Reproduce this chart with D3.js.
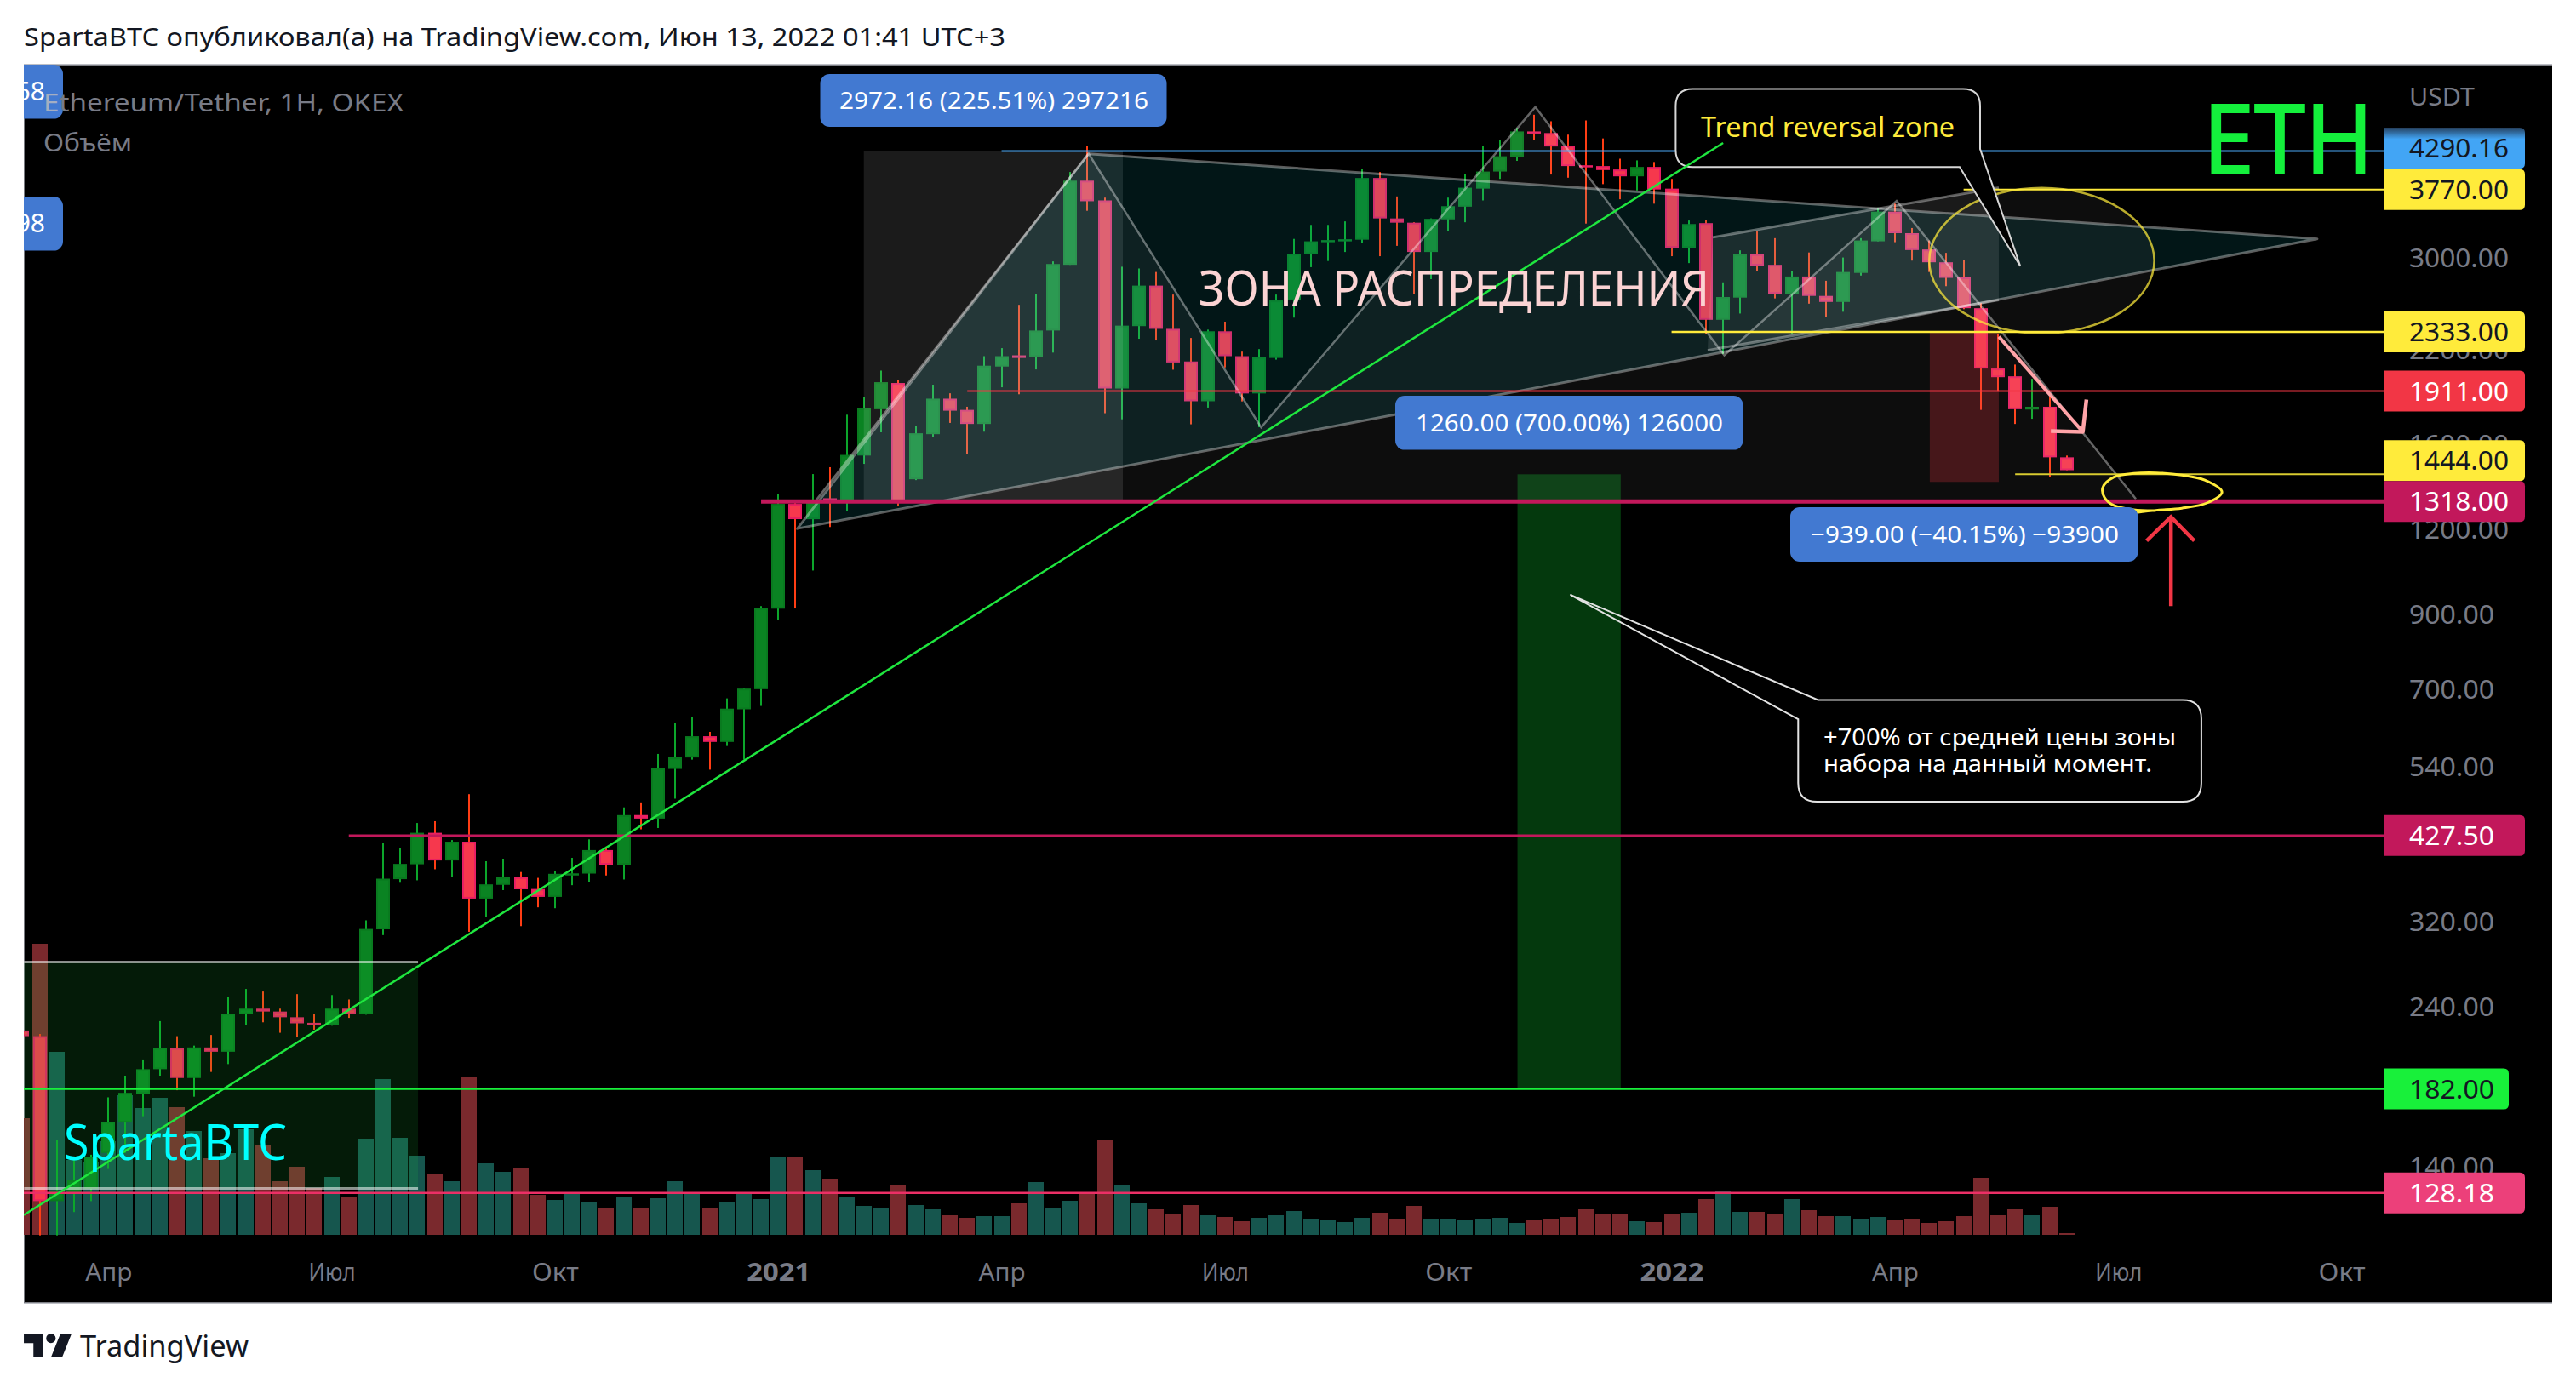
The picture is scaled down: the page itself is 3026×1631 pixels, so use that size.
<!DOCTYPE html>
<html><head><meta charset="utf-8">
<script src="https://cdn.jsdelivr.net/npm/d3@7/dist/d3.min.js"></script>
<style>html,body{margin:0;padding:0;background:#fff}svg{display:block}text{font-family:"Noto Sans",sans-serif}</style>
</head><body><svg id="c" width="3026" height="1631"></svg>
<script>
// Weekly ETH/USDT candles (first entry is the clipped bar before index 0)
const opens=[221.6,
217.4,124.7,128.5,130,146.7,162.5,179.1,194.5,208.9,188.8,
209.3,206.3,234,238.5,236.2,231.7,227.4,225.7,238.5,234,
311.6,369,388,431.4,393,418.7,345.6,362,371.6,357,
347.6,375,376,407,387.3,458,452.6,535,556,597.4,
586,654,700,918,1307,1241,1332,1318,1538,1798,
1964,1420,1653,1863,1794,1711,2076,2156,2144,2344,
2925,3884,3634,1928,2379,2727,2357,2112,1847,2338,
2150,1896,2137,2594,3031,3166,3179,3183,3919,3420,
3371,3054,3409,3558,3781,4005,4210,4585,4560,4370,
4091,4080,4033,3941,4068,3781,3097,3366,2430,2619,
3032,2925,2653,2812,2634,2581,2846,3166,3499,3254,
3080,2950,2804,2527,2062,2009,1796,1813,1529];
const closes=[217.4,
124.7,129.3,133.7,144.5,162.9,179.6,194.5,208.9,188.8,209.3,
206.3,234.6,238.5,236.2,231.7,227,225.7,238.5,234,312,
369.6,388.5,431.4,393,418.7,345.6,362.6,371.6,356.6,347.6,
375.7,376.3,407,387.3,457.9,452.6,536.3,556.4,597.4,586,
655.5,701.3,920.5,1307,1241.4,1325,1311,1541.5,1803.5,1969.6,
1318,1658,1863,1789,1711,2082,2150,2137,2344,2933,
3884,3624,1928,2383,2727,2357,2105,1847,2338,2150,
1896,2144,2594,3037,3166,3179,3188,3919,3420,3371,
3054,3415,3564,3793,4005,4217,4585,4572,4358,4080,
4068,4025,3941,4068,3770,3097,3356,2430,2624,3032,
2918,2653,2812,2634,2581,2855,3175,3499,3254,3074,
2950,2799,2527,2062,2003,1798,1813,1529,1464];
const highs=[226,
219,153.4,144.1,145.8,176.9,190.3,201,228.7,217.4,210.6,
218.3,248.2,254.9,252.7,238.5,250.5,234,249.7,246,321.2,
417.5,409.3,445.9,448.6,421,491.4,392,395.4,378,370.6,
379.2,396.5,422,411.7,470,478,562.7,625.6,637.9,606.2,
678.6,703.3,926,1351,1314,1445,1479,1765,1875,2048,
1982,1702,1953,1897,1813,2150,2209,2556,2654,2959,
3999,4369,3668,2906,2889,2855,2646,2286,2351,2415,
2183,2202,2646,3192,3346,3346,3386,4045,3999,3683,
3376,3420,3668,3976,4369,4456,4640,4850,4745,4535,
4758,4478,4182,4159,4136,3907,3396,3406,2757,3071,
3282,3200,2864,3049,2772,2998,3200,3535,3594,3311,
3175,3045,2976,2571,2319,2090,1992,1875,1538];
const lows=[215,
111.1,111.1,120.2,124.7,139,146.7,166,190.3,181.2,177.3,
192.7,197.9,225.5,227.8,219.9,216.5,222.2,225.2,231.2,233.7,
305.6,364.6,367.6,381.5,371.6,309,324.7,355.6,315,335.6,
334.6,361.6,365.6,373.6,368.6,436.5,438.4,484,552,533.7,
578,552,661.5,885,918.6,1044,1209,1274,1495.6,1663.5,
1296,1416,1639,1717,1546,1667,1936,1891,2056,2176,
2925,3509,1774,1738,2280,2267,2054,1709,1808,2070,
1846,1692,2125,2448,2902,2963,3054,3149,3011,3118,
2653,2787,3277,3376,3634,3907,4152,4456,3965,3923,
3361,3839,3648,3758,3594,3011,2942,2315,2165,2482,
2864,2612,2315,2566,2452,2497,2821,3166,3157,2967,
2855,2722,2519,1794,1908,1711,1741,1433,1464];
const volumes=[137,
342,215,88,85,110,164,149,161,150,122,
90,96,124,105,63,80,55,68,45,113,
183,114,93,72,63,185,84,74,78,47,
41,48,38,31,45,32,43,63,50,32,
38,49,42,92,92,76,66,44,34,31,
58,35,30,23,20,22,22,37,62,32,
40,48,111,58,37,30,24,35,23,21,
16,20,23,28,19,17,15,20,26,18,
34,19,19,17,18,20,14,17,18,21,
30,24,24,16,15,24,26,42,51,27,
27,25,42,29,22,22,18,21,17,19,
14,16,22,67,23,30,23,33,2];
const priceTicks=[3000,2200,1600,1200,900,700,540,320,240,140];
const timeBars=[4,17,30,43,56,69,82,95,108,121,134];
const timeLabels=["Апр","Июл","Окт","2021","Апр","Июл","Окт","2022","Апр","Июл","Окт"];
// horizontal levels: price, first bar
const levelPrices=[4290.16,3770,2333,1911,1444,1318,427.5,182,128.18];
const levelStart=[56,112,95,54,115,42,18,-1,-1];
// drawings in [bar, price]
const zigzag=[[45.17,1320],[61.07,4252],[71.11,1692],[87.07,4979],[98.07,2157],[108.1,3628],[122.03,1329]];
const triangle=[[44.11,1202.5],[61.06,4252],[132.58,3192]];
const channelTop=[[97.4,3209],[114.05,3793]];
const channelBottom=[[114.05,2597],[97.1,2193]];
const greenZone=[[-0.9,279],[22.03,130.1]];
const grayZone=[[47.98,4290],[63.06,1318]];
const redZone=[[110.03,2333],[114.05,1407.5]];
const targetZone=[[86.03,1444],[92.04,182]];
const trend=[[-0.92,119],[98,4410]];
const circleBox=[[110,3790],[123.1,2322]];
const handEllipse=[[122.07,1269.5],[123.2,1279],[124.7,1288],[126.2,1312],[127.04,1360],[126.04,1416],[124.7,1440],[123.2,1451],[121.9,1448],[120.75,1430],[120.1,1381],[120.2,1336],[120.75,1300],[121.9,1281.5],[123.2,1278]];
const pinkShaft=[[114.05,2296],[118.94,1666]];
const pinkHead=[[117.08,1670],[118.94,1666],[119.15,1858]];
const redShaft=[[124.07,926],[124.07,1251]];
const redHead=[[122.65,1154],[124.07,1251],[125.43,1154]];
const callout1=[[95.24,5292],[112.96,4068]];
const callout1Tail=[[112.96,4322],[115.3,2911],[111.77,4068]];
const callout2=[[102.37,675],[125.84,479]];
const callout2Tail=[[103.52,675],[89.1,962],[102.37,632.6]];

const W=3026,H=1631,L=28,R=2998,AX=2801,T=76,B=1531;
const svg=d3.select("#c");
const x=d3.scaleLinear().domain([0,118]).range([46.5,2427.7]);
const y=d3.scaleLog().domain([4290.16,128.18]).range([177.6,1401.8]);
const yv=d3.scaleLinear().domain([0,342]).range([1451,1109]);
const pt=d=>[x(d[0]),y(d[1])];
const line=d3.line();
const defs=svg.append("defs");
defs.append("clipPath").attr("id","pane").append("rect").attr("x",L).attr("y",T).attr("width",AX-L).attr("height",B-T);
const gr=defs.append("linearGradient").attr("id","blueTop").attr("x1",0).attr("x2",0).attr("y1",0).attr("y2",1);
gr.append("stop").attr("offset","0%").attr("stop-color","#25405e");
gr.append("stop").attr("offset","28%").attr("stop-color","#42a5f5");

svg.append("rect").attr("width",W).attr("height",H).attr("fill","#fff");
svg.append("rect").attr("x",L).attr("y",T).attr("width",R-L).attr("height",B-T).attr("fill","#000");
svg.append("path").attr("d",`M${L},${T}H${R}M${L},${B}H${R}`).attr("stroke","#a8aab2").attr("stroke-width",1.5).attr("fill","none");
svg.append("path").attr("d",`M${L+.5},${T}V${B}`).attr("stroke","#77797f").attr("stroke-width",1).attr("fill","none");

const pane=svg.append("g").attr("clip-path","url(#pane)");
const bars=d3.range(opens.length).map(k=>({b:k-1,o:opens[k],h:highs[k],l:lows[k],c:closes[k],v:volumes[k]}));
const rx=d=>Math.round(x(d.b));
const isUp=d=>d.c>=d.o;

// volume
pane.append("g").selectAll("rect").data(bars).join("rect")
 .attr("x",d=>rx(d)-9).attr("width",18)
 .attr("y",d=>yv(d.v)).attr("height",d=>yv(0)-yv(d.v))
 .attr("fill",d=>isUp(d)?"#16564e":"#7a292d");

// candles
const cg=pane.append("g");
cg.selectAll("rect.w").data(bars).join("rect").attr("class","w")
 .attr("x",d=>rx(d)-1).attr("width",2)
 .attr("y",d=>y(d.h)).attr("height",d=>y(d.l)-y(d.h))
 .attr("fill",d=>isUp(d)?"#0ca62b":"#ff3d14");
cg.selectAll("rect.b").data(bars).join("rect").attr("class","b")
 .attr("x",d=>rx(d)-7).attr("width",14)
 .attr("y",d=>y(Math.max(d.o,d.c))+1)
 .attr("height",d=>Math.max(.5,Math.abs(y(d.o)-y(d.c))-2))
 .attr("fill",d=>isUp(d)?"#0a8322":"#f6384d")
 .attr("stroke",d=>isUp(d)?"#097a1f":"#e91e63").attr("stroke-width",2);

// zones
function box(p,fill){const a=pt(p[0]),b=pt(p[1]);
 return pane.append("rect").attr("x",a[0]).attr("y",a[1]).attr("width",b[0]-a[0]).attr("height",b[1]-a[1]).attr("fill",fill);}
box(greenZone,"rgba(30,225,65,.12)");
{const a=pt(greenZone[0]),b=pt(greenZone[1]);
 pane.append("path").attr("d",`M${a[0]},${a[1]}H${b[0]}M${a[0]},${b[1]}H${b[0]}`).attr("stroke","rgba(255,255,255,.55)").attr("stroke-width",3).attr("fill","none");}
box(grayZone,"rgba(255,255,255,.105)");
box(targetZone,"rgba(10,130,30,.44)");
pane.append("path").attr("d",line(triangle.map(pt))+"Z").attr("fill","rgba(20,190,200,.115)").attr("stroke","rgba(255,255,255,.36)").attr("stroke-width",3).attr("stroke-linejoin","round");
pane.append("path").attr("d",line(zigzag.map(pt))+"Z").attr("fill","rgba(255,255,255,.05)").attr("stroke","none");
pane.append("path").attr("d",line(zigzag.map(pt))).attr("fill","none").attr("stroke","rgba(255,255,255,.38)").attr("stroke-width",2.5);
pane.append("path").attr("d",line(channelTop.concat(channelBottom).map(pt))+"Z").attr("fill","rgba(255,255,255,.1)");
[channelTop,channelBottom].forEach(s=>pane.append("path").attr("d",line(s.map(pt))).attr("stroke","rgba(255,255,255,.36)").attr("stroke-width",3).attr("fill","none"));
box(redZone,"rgba(242,54,69,.25)");
{const a=pt(circleBox[0]),b=pt(circleBox[1]);
 pane.append("ellipse").attr("cx",(a[0]+b[0])/2).attr("cy",(a[1]+b[1])/2).attr("rx",(b[0]-a[0])/2).attr("ry",(b[1]-a[1])/2)
 .attr("fill","rgba(255,255,255,.05)").attr("stroke","rgba(255,235,59,.72)").attr("stroke-width",2.5);}

// levels
const levelColor=["#4aa8f5","#ffeb3b","#ffeb3b","#f23645","#d8cb30","#c2185b","#c2185b","#18f03a","#ec2f66"];
const levelWidth=[2,2,2.5,2,2,5,2.5,2.5,2.5];
pane.append("g").selectAll("line").data(levelPrices).join("line")
 .attr("x1",(d,i)=>x(levelStart[i])).attr("x2",AX)
 .attr("y1",d=>y(d)).attr("y2",d=>y(d))
 .attr("stroke",(d,i)=>levelColor[i]).attr("stroke-width",(d,i)=>levelWidth[i]);

// callouts
{ const a=pt(callout1[0]),b=pt(callout1[1]),t=callout1Tail.map(pt),rr=20;
 const d=`M${a[0]+rr},${a[1]}H${b[0]-rr}Q${b[0]},${a[1]} ${b[0]},${a[1]+rr}V${t[0][1]}L${t[1][0]},${t[1][1]}L${t[2][0]},${t[2][1]}H${a[0]+rr}Q${a[0]},${b[1]} ${a[0]},${b[1]-rr}V${a[1]+rr}Q${a[0]},${a[1]} ${a[0]+rr},${a[1]}Z`;
 pane.append("path").attr("d",d).attr("fill","#000").attr("stroke","#d6d6d6").attr("stroke-width",2);
}
{ const a=pt(callout2[0]),b=pt(callout2[1]),t=callout2Tail.map(pt),rr=22;
 const d=`M${t[0][0]},${a[1]}H${b[0]-rr}Q${b[0]},${a[1]} ${b[0]},${a[1]+rr}V${b[1]-rr}Q${b[0]},${b[1]} ${b[0]-rr},${b[1]}H${a[0]+rr}Q${a[0]},${b[1]} ${a[0]},${b[1]-rr}V${t[2][1]}L${t[1][0]},${t[1][1]}Z`;
 pane.append("path").attr("d",d).attr("fill","none").attr("stroke","#e2e2e2").attr("stroke-width",2);
}

// trend line and hand drawings
pane.append("path").attr("d",line(trend.map(pt))).attr("stroke","#1fe63f").attr("stroke-width",2.5).attr("fill","none");
pane.append("path").attr("d",d3.line().curve(d3.curveCatmullRom)(handEllipse.map(pt))).attr("stroke","#ffeb3b").attr("stroke-width",3).attr("fill","none");
pane.append("path").attr("d",line(pinkShaft.map(pt))).attr("stroke","#ffa4a8").attr("stroke-width",4).attr("fill","none");
pane.append("path").attr("d",line(pinkHead.map(pt))).attr("stroke","#ffa4a8").attr("stroke-width",4.5).attr("fill","none").attr("stroke-linejoin","round");
pane.append("path").attr("d",line(redShaft.map(pt))).attr("stroke","#f23645").attr("stroke-width",4.5).attr("fill","none");
pane.append("path").attr("d",line(redHead.map(pt))).attr("stroke","#f23645").attr("stroke-width",4.5).attr("fill","none");

// text helper
function txt(parent,s,px,py,o){const e=parent.append("text").attr("x",px).attr("y",py).text(s)
 .attr("font-size",o.size).attr("fill",o.fill).attr("text-anchor",o.anchor||"start");
 if(o.len)e.attr("textLength",o.len).attr("lengthAdjust","spacingAndGlyphs");
 if(o.weight)e.attr("font-weight",o.weight);return e;}

// measure labels
[{x:963.5,w:407,y:87,h:62,t:"2972.16 (225.51%) 297216",tx:986,len:363},
 {x:1639,w:408.5,y:465,h:63.6,t:"1260.00 (700.00%) 126000",tx:1663,len:361},
 {x:2103,w:408.4,y:596,h:64,t:"−939.00 (−40.15%) −93900",tx:2127,len:362}].forEach(l=>{
 pane.append("rect").attr("x",l.x).attr("y",l.y).attr("width",l.w).attr("height",l.h).attr("rx",11).attr("fill","#4279d1");
 txt(pane,l.t,l.tx,l.y+l.h/2+10,{size:28,fill:"#fff",len:l.len});
});
// the two measure labels cut by the left edge of the pane
[{y:76,h:63.6,t:"58"},{y:231,h:63.6,t:"98"}].forEach(l=>{
 pane.append("rect").attr("x",-20).attr("y",l.y).attr("width",94).attr("height",l.h).attr("rx",11).attr("fill","#4279d1");
 txt(pane,l.t,53,l.y+l.h/2+10,{size:30,fill:"#fff",anchor:"end"});
});

// chart texts
const legend=txt(pane,"",51,131,{size:29,fill:"#787b86",len:423});
legend.append("tspan").attr("fill","#a4aec2").text("E");
legend.append("tspan").text("thereum/Tether, 1H, OKEX");
txt(pane,"Объём",51,178,{size:29,fill:"#787b86",len:104});
txt(pane,"ЗОНА РАСПРЕДЕЛЕНИЯ",1408,359,{size:56,fill:"#fbd3d3",len:600});
txt(pane,"SpartaBTC",75,1363,{size:58,fill:"#00ffff",len:262});
txt(pane,"ETH",2588,204,{size:114,fill:"#14f03c",len:200}).attr("stroke","#14f03c").attr("stroke-width",2);
txt(pane,"Trend reversal zone",1998,161,{size:32,fill:"#ffeb3b",len:298});
txt(pane,"+700% от средней цены зоны",2142,876,{size:28,fill:"#fff",len:414});
txt(pane,"набора на данный момент.",2142,907,{size:28,fill:"#fff",len:386});

// price axis
svg.append("rect").attr("x",AX).attr("y",T+1).attr("width",R-AX).attr("height",B-T-2).attr("fill","#000");
const axY=d3.axisRight(y).tickValues(priceTicks).tickFormat(d3.format(".2f")).tickSize(0).tickPadding(0);
const gy=svg.append("g").attr("transform","translate(2830,0)").call(axY);
gy.select(".domain").remove();
gy.selectAll("text").attr("x",0).attr("dy",".36em").attr("fill","#787b86").attr("font-size",30).style("font-family",'"Noto Sans",sans-serif')
 .attr("textLength",d=>d>=1000?117:100).attr("lengthAdjust","spacingAndGlyphs");
txt(svg,"USDT",2830,124,{size:29,fill:"#787b86",len:77});

// time axis
const axX=d3.axisBottom(x).tickValues(timeBars).tickFormat((d,i)=>timeLabels[i]).tickSize(0).tickPadding(0);
const gx=svg.append("g").attr("transform","translate(0,1505)").call(axX);
gx.select(".domain").remove();
gx.selectAll("text").attr("y",0).attr("dy",0).attr("fill","#787b86").attr("font-size",29).style("font-family",'"Noto Sans",sans-serif')
 .attr("font-weight",(d,i)=>/^20/.test(timeLabels[i])?700:400)
 .attr("textLength",(d,i)=>/^20/.test(timeLabels[i])?75:55).attr("lengthAdjust","spacingAndGlyphs");

// price labels on the scale
const tagBg=["url(#blueTop)","#ffeb3b","#ffeb3b","#f23645","#ffeb3b","#c2185b","#c2185b","#18f03a","#ec407a"];
const tagFg=["#131722","#131722","#131722","#fff","#131722","#fff","#fff","#131722","#fff"];
const tagShift=[-3.6,0,0,0,-16,0,0,0,0];
const tagRight=[2966,2966,2966,2966,2966,2966,2966,2947,2966];
const tg=svg.append("g");
levelPrices.forEach((p,i)=>{
 const yy=y(p)+tagShift[i],r=tagRight[i];
 tg.append("path").attr("d",`M${AX},${yy-24}H${r-6}Q${r},${yy-24} ${r},${yy-18}V${yy+18}Q${r},${yy+24} ${r-6},${yy+24}H${AX}Z`).attr("fill",tagBg[i]);
 txt(tg,d3.format(".2f")(p),2830,yy+11,{size:30,fill:tagFg[i],len:p>=1000?117:100});
});

// header and footer
txt(svg,"SpartaBTC опубликовал(а) на TradingView.com, Июн 13, 2022 01:41 UTC+3",28,54,{size:29,fill:"#131722",len:1153});
svg.append("path").attr("transform","translate(24.3,1555.8) scale(1.87)")
 .attr("d","M14 6H2v6h6v9h6V6Zm12 15h-7l6-15h7l-6 15Zm-7-9a3 3 0 1 0 0-6 3 3 0 0 0 0 6Z").attr("fill","#131722");
txt(svg,"TradingView",94,1594,{size:35,fill:"#131722",len:198});
</script></body></html>
